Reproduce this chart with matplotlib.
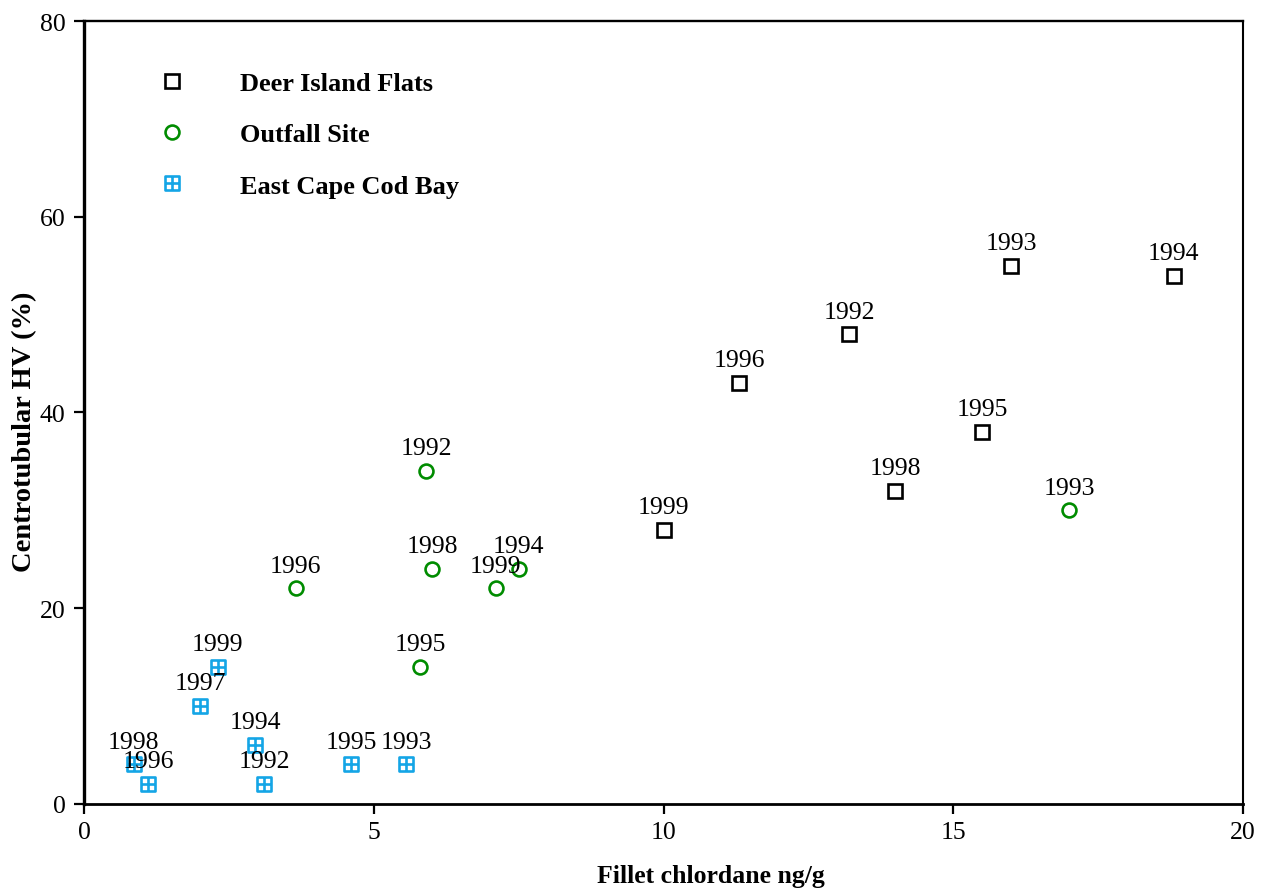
import matplotlib.pyplot as plt
from matplotlib.path import Path

plt.rcParams['font.family'] = ['Liberation Serif', 'DejaVu Serif']

# Deer Island Flats
dif_x = [13.2, 16.0, 18.8, 15.5, 11.3, 14.0, 10.0]
dif_y = [48, 55, 54, 38, 43, 32, 28]
dif_yr = ['1992', '1993', '1994', '1995', '1996', '1998', '1999']

# Outfall Site
out_x = [5.9, 17.0, 7.5, 5.8, 3.65, 6.0, 7.1]
out_y = [34, 30, 24, 14, 22, 24, 22]
out_yr = ['1992', '1993', '1994', '1995', '1996', '1998', '1999']

# East Cape Cod Bay
ecc_x = [3.1, 5.55, 2.95, 4.6, 1.1, 2.0, 0.85, 2.3]
ecc_y = [2, 4, 6, 4, 2, 10, 4, 14]
ecc_yr = ['1992', '1993', '1994', '1995', '1996', '1997', '1998', '1999']

# square with a cross inside
boxplus = Path([(-1, -1), (1, -1), (1, 1), (-1, 1), (-1, -1),
                (-1, 0), (1, 0), (0, -1), (0, 1)],
               [Path.MOVETO, Path.LINETO, Path.LINETO, Path.LINETO, Path.CLOSEPOLY,
                Path.MOVETO, Path.LINETO, Path.MOVETO, Path.LINETO])

fig = plt.figure(figsize=(12.68, 8.95), dpi=100)
ax = fig.add_axes([0.0666, 0.1011, 0.9137, 0.8738])

series = [
    ('Deer Island Flats', dif_x, dif_y, dif_yr, 's', 'black'),
    ('Outfall Site', out_x, out_y, out_yr, 'o', '#008c00'),
    ('East Cape Cod Bay', ecc_x, ecc_y, ecc_yr, boxplus, '#14a5e6'),
]

for name, xs, ys, yrs, mk, col in series:
    ax.plot(xs, ys, linestyle='none', marker=mk, markersize=10,
            markerfacecolor='none', markeredgecolor=col, markeredgewidth=1.9,
            label=name)
    for x, y, t in zip(xs, ys, yrs):
        ax.annotate(t, (x, y), xytext=(0, 12), textcoords='offset points',
                    ha='center', va='baseline', fontsize=18.5)

ax.set_xlim(0, 20)
ax.set_ylim(0, 80)
ax.set_xticks([0, 5, 10, 15, 20])
ax.set_yticks([0, 20, 40, 60, 80])
ax.tick_params(direction='out', length=7.5, width=1.6, labelsize=18.5)
ax.tick_params(axis='x', pad=5)
ax.tick_params(axis='y', pad=6)

ax.spines['left'].set_linewidth(2.4)
ax.spines['bottom'].set_linewidth(2.0)
ax.spines['top'].set_linewidth(1.7)
ax.spines['right'].set_linewidth(1.5)

ax.set_xlabel('Fillet chlordane ng/g', fontsize=18.5, fontweight='bold')
ax.xaxis.set_label_coords(0.541, -0.1, transform=ax.transAxes)
ax.xaxis.label.set_va('baseline')
ax.set_ylabel('Centrotubular HV (%)', fontsize=20.5, fontweight='bold', labelpad=2)
ax.yaxis.label.set_y(0.476)

ax.legend(loc='upper left', bbox_to_anchor=(0.0377, 0.966), frameon=False,
          prop={'weight': 'bold', 'size': 19},
          labelspacing=1.05, handletextpad=1.83, handlelength=1.5)

fig.savefig('out.png', dpi=100)
